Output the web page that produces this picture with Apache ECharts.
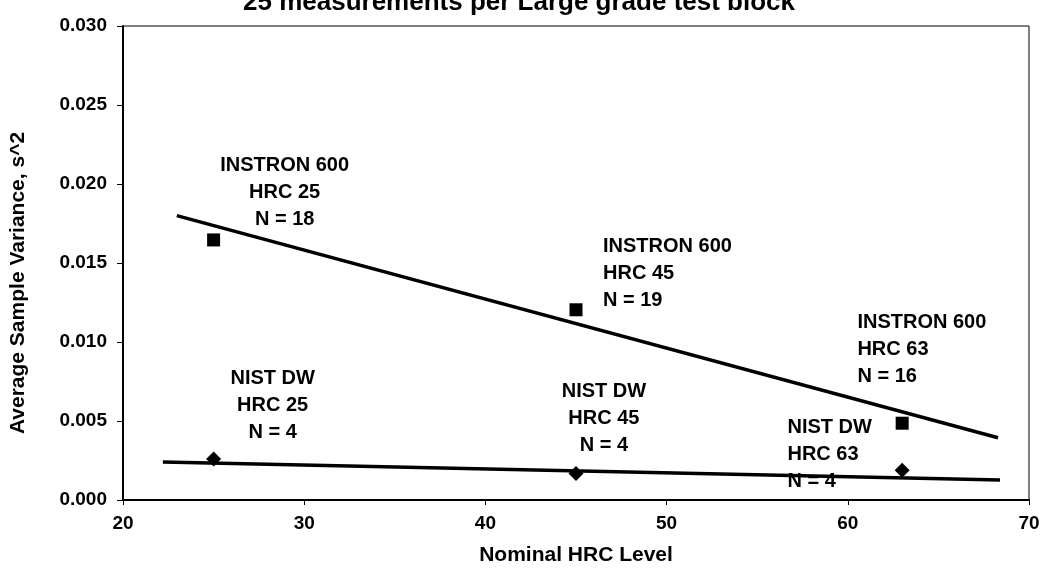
<!DOCTYPE html>
<html>
<head>
<meta charset="utf-8">
<script src="https://cdn.jsdelivr.net/npm/echarts@6/dist/echarts.min.js"></script>
<style>html,body{margin:0;padding:0;background:#fff;}#c{width:1045px;height:571px;}</style>
</head>
<body>
<div id="c"></div>
<script>
// ---- data ----
const titleText = '25 measurements per Large grade test block';
const hrcLevels = [25, 45, 63];
const instronVariance = [0.01646, 0.01204, 0.00486];
const nistVariance = [0.00260, 0.00167, 0.00188];
const instronFitX = [22.97, 68.29];
const instronFitY = [0.01800, 0.00394];
const nistFitX = [22.2, 68.4];
const nistFitY = [0.00240, 0.00127];
const noteText = [
  'INSTRON 600\nHRC 25\nN = 18',
  'INSTRON 600\nHRC 45\nN = 19',
  'INSTRON 600\nHRC 63\nN = 16',
  'NIST DW\nHRC 25\nN = 4',
  'NIST DW\nHRC 45\nN = 4',
  'NIST DW\nHRC 63\nN = 4'
];
const noteX = [28.92, 46.49, 60.53, 28.26, 46.54, 56.67];
const noteY = [0.01944, 0.01431, 0.00950, 0.00600, 0.00519, 0.002875];
const noteAlign = ['center', 'left', 'left', 'center', 'center', 'left'];
const xTicks = {min: 20, max: 70, interval: 10};
const yTicks = {min: 0, max: 0.03, interval: 0.005};

const FONT = '"Liberation Sans", Arial, sans-serif';
const chart = echarts.init(document.getElementById('c'), null, {renderer: 'canvas'});

const pair = (xs, ys) => xs.map((x, i) => [x, ys[i]]);

chart.setOption({
  animation: false,
  backgroundColor: '#fff',
  graphic: [{
    type: 'text',
    x: 519, y: 3,
    style: {
      text: titleText,
      fill: '#000',
      font: 'bold 26px ' + FONT,
      textAlign: 'center',
      textVerticalAlign: 'middle'
    }
  }],
  grid: {
    left: 121, right: 16, top: 26, bottom: 65,
    show: true, borderColor: '#000', borderWidth: 1, backgroundColor: 'transparent'
  },
  xAxis: {
    type: 'value',
    min: xTicks.min, max: xTicks.max, interval: xTicks.interval,
    name: 'Nominal HRC Level',
    nameLocation: 'middle',
    nameGap: 45,
    nameTextStyle: {fontFamily: FONT, fontWeight: 'bold', fontSize: 21, color: '#000'},
    axisLine: {lineStyle: {color: '#000', width: 2}},
    axisTick: {show: true, length: 5, lineStyle: {color: '#000', width: 1}},
    axisLabel: {fontFamily: FONT, fontWeight: 'bold', fontSize: 19, color: '#000', margin: 14},
    splitLine: {show: false}
  },
  yAxis: {
    type: 'value',
    min: yTicks.min, max: yTicks.max, interval: yTicks.interval,
    name: 'Average Sample Variance, s^2',
    nameLocation: 'middle',
    nameGap: 94,
    nameTextStyle: {fontFamily: FONT, fontWeight: 'bold', fontSize: 21, color: '#000', padding: [0, 40, 0, 0]},
    axisLine: {show: true, lineStyle: {color: '#000', width: 2}},
    axisTick: {show: true, length: 6, lineStyle: {color: '#000', width: 1}},
    axisLabel: {fontFamily: FONT, fontWeight: 'bold', fontSize: 19, color: '#000', margin: 16,
      formatter: v => v.toFixed(3)},
    splitLine: {show: false}
  },
  series: [
    {
      type: 'line', data: pair(instronFitX, instronFitY),
      symbol: 'none', lineStyle: {color: '#000', width: 3.5}, z: 2
    },
    {
      type: 'line', data: pair(nistFitX, nistFitY),
      symbol: 'none', lineStyle: {color: '#000', width: 3.5}, z: 2
    },
    {
      type: 'scatter', data: pair(hrcLevels, instronVariance),
      symbol: 'rect', symbolSize: 13, itemStyle: {color: '#000', opacity: 1}, z: 3
    },
    {
      type: 'scatter', data: pair(hrcLevels, nistVariance),
      symbol: 'diamond', symbolSize: [15, 15], itemStyle: {color: '#000', opacity: 1}, z: 3
    },
    {
      type: 'scatter',
      data: noteText.map((t, i) => ({
        value: [noteX[i], noteY[i]],
        label: {formatter: t, align: noteAlign[i]}
      })),
      symbolSize: 1,
      itemStyle: {color: 'transparent', opacity: 1},
      label: {
        show: true, position: 'inside', verticalAlign: 'middle',
        fontFamily: FONT, fontWeight: 'bold', fontSize: 20, color: '#000', lineHeight: 27
      },
      silent: true, z: 4
    }
  ]
});
</script>
</body>
</html>
